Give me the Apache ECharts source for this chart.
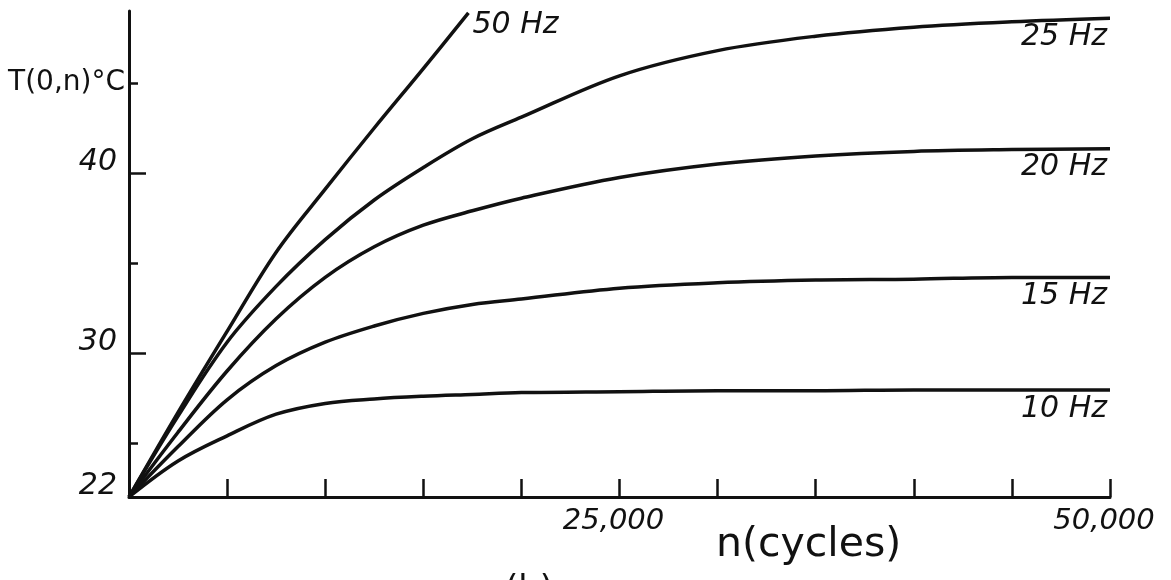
<!DOCTYPE html>
<html>
<head>
<meta charset="utf-8">
<script src="https://cdn.jsdelivr.net/npm/echarts@6/dist/echarts.min.js"></script>
<style>
  html, body { margin: 0; padding: 0; background: #ffffff; }
  #chart { width: 1171px; height: 580px; }
</style>
</head>
<body>
<div id="chart"></div>
<script>
// ---- data ----
const nCycles = [0, 2500, 5000, 7500, 10000, 12500, 15000, 17500, 20000, 25000, 30000, 35000, 40000, 45000, 50000];
const t10Hz = [22, 24.0, 25.4, 26.6, 27.2, 27.45, 27.6, 27.7, 27.8, 27.85, 27.9, 27.9, 27.95, 27.95, 27.95];
const t15Hz = [22, 24.8, 27.4, 29.3, 30.6, 31.5, 32.2, 32.7, 33.0, 33.6, 33.9, 34.05, 34.1, 34.2, 34.2];
const t20Hz = [22, 25.6, 29.0, 31.9, 34.2, 35.9, 37.1, 37.9, 38.6, 39.75, 40.5, 40.95, 41.2, 41.3, 41.35];
const t25Hz = [22, 26.5, 30.6, 33.7, 36.3, 38.5, 40.3, 41.9, 43.1, 45.4, 46.8, 47.6, 48.1, 48.4, 48.6];
const nCycles50 = [0, 2500, 5000, 7500, 10000, 12500, 15000, 17300];
const t50Hz = [22, 26.7, 31.2, 35.6, 39.1, 42.5, 45.8, 48.9];

const seriesNames = ['10 Hz', '15 Hz', '20 Hz', '25 Hz', '50 Hz'];
const xLabelValues = [25000, 50000];
const xLabelTexts = ['25,000', '50,000'];
const yLabelValues = [22, 30, 40];
const yMinorTicks = [25, 35, 45];
const yMajorTicks = [30, 40];
const yTitleValue = 45;
const yTitle = 'T(0,n)°C';
const xTitle = 'n(cycles)';
const figTag = '(b)';

const ink = '#111111';
const FONT = 'DejaVu Sans';

function pairs(xs, ys) { return xs.map((x, i) => [x, ys[i]]); }

function curve(name, xs, ys, labelSide) {
  const endLabel = labelSide === 'right'
    ? { show: true, formatter: name, color: ink, fontFamily: FONT, fontStyle: 'italic',
        fontSize: 30, align: 'left', verticalAlign: 'top', distance: 4, padding: [-3, 0, 0, 0] }
    : { show: true, formatter: name, color: ink, fontFamily: FONT, fontStyle: 'italic',
        fontSize: 30, align: 'right', verticalAlign: 'top', distance: -3, padding: [4, 0, 0, 0] };
  return {
    name: name,
    type: 'line',
    data: pairs(xs, ys),
    smooth: 0.35,
    showSymbol: false,
    clip: false,
    lineStyle: { color: ink, width: 3.5 },
    endLabel: endLabel,
    emphasis: { disabled: true }
  };
}

const chart = echarts.init(document.getElementById('chart'), null, { renderer: 'canvas' });
chart.setOption({
  animation: false,
  backgroundColor: '#ffffff',
  grid: { left: 129, right: 61, top: 11, bottom: 83, containLabel: false, outerBoundsMode: 'none' },
  xAxis: {
    type: 'value',
    min: 0,
    max: 50000,
    interval: 5000,
    axisLine: { show: true, onZero: false, lineStyle: { color: ink, width: 3 } },
    axisTick: { show: true, inside: true, length: 18, lineStyle: { color: ink, width: 2.5 } },
    splitLine: { show: false },
    axisLabel: {
      show: true,
      customValues: xLabelValues,
      formatter: v => xLabelTexts[xLabelValues.indexOf(v)],
      color: ink, fontFamily: FONT, fontStyle: 'italic', fontSize: 29,
      margin: 10, padding: [0, 12, 0, 0]
    }
  },
  yAxis: [
    {
      type: 'value',
      position: 'left',
      min: 22,
      max: 49,
      axisLine: { show: true, onZero: false, lineStyle: { color: ink, width: 3 } },
      axisTick: { show: true, inside: true, length: 9, customValues: yMinorTicks, lineStyle: { color: ink, width: 2.5 } },
      splitLine: { show: false },
      axisLabel: {
        show: true,
        customValues: yLabelValues,
        color: ink, fontFamily: FONT, fontStyle: 'italic', fontSize: 30,
        margin: 12, verticalAlign: 'bottom', lineHeight: 22
      }
    },
    {
      type: 'value',
      position: 'left',
      offset: 0,
      min: 22,
      max: 49,
      axisLine: { show: false },
      axisTick: { show: true, inside: true, length: 17, customValues: yMajorTicks, lineStyle: { color: ink, width: 2.5 } },
      splitLine: { show: false },
      axisLabel: {
        show: true,
        customValues: [yTitleValue],
        formatter: () => yTitle,
        color: ink, fontFamily: FONT, fontSize: 28,
        margin: 4, verticalAlign: 'middle'
      }
    }
  ],
  series: [
    curve(seriesNames[0], nCycles, t10Hz, 'below'),
    curve(seriesNames[1], nCycles, t15Hz, 'below'),
    curve(seriesNames[2], nCycles, t20Hz, 'below'),
    curve(seriesNames[3], nCycles, t25Hz, 'below'),
    curve(seriesNames[4], nCycles50, t50Hz, 'right')
  ],
  graphic: [
    { type: 'text', left: 716, top: 525, style: { text: xTitle, fill: ink, font: '41px "DejaVu Sans"' } },
    { type: 'text', left: 505, top: 573, style: { text: figTag, fill: ink, font: '34px "DejaVu Sans"' } }
  ]
});
</script>
</body>
</html>
